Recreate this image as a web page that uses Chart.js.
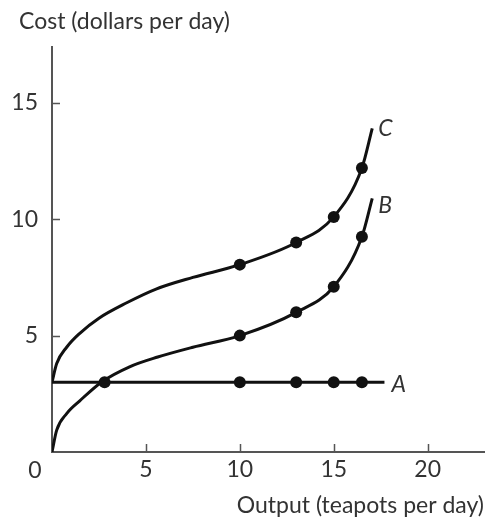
<!DOCTYPE html>
<html>
<head>
<meta charset="utf-8">
<script src="https://cdn.jsdelivr.net/npm/chart.js@4"></script>
<style>
  html, body { margin: 0; padding: 0; background: #fff; }
  #grafico { display: block; }
</style>
</head>
<body>
<canvas id="grafico" width="490" height="529"></canvas>
<script>
// datos
const xTicks = [5, 10, 15, 20];
const yTicks = [5, 10, 15];

// curva A (costo fijo)
const curvaAX = [0, 17.7];
const curvaAY = [3, 3];
// curva B
const curvaBX = [0, 0.25, 0.78, 1.48, 2.63, 4.13, 5.63, 7.5, 10, 13, 15, 16.5, 17.05];
const curvaBY = [0, 0.94, 1.65, 2.2, 3.0, 3.66, 4.08, 4.5, 5.0, 6.0, 7.1, 9.25, 10.9];
// curva C
const curvaCX = [0, 0.25, 0.78, 1.48, 2.5, 3.95, 5.54, 7.5, 10, 13, 15, 16.5, 17.05];
const curvaCY = [3, 3.8, 4.5, 5.1, 5.75, 6.4, 7.0, 7.5, 8.05, 9.0, 10.1, 12.2, 13.9];

// puntos marcados
const puntosAX = [2.8, 10, 13, 15, 16.5];
const puntosAY = [3, 3, 3, 3, 3];
const puntosBX = [10, 13, 15, 16.5];
const puntosBY = [5.0, 6.0, 7.1, 9.25];
const puntosCX = [10, 13, 15, 16.5];
const puntosCY = [8.05, 9.0, 10.1, 12.2];

const etiquetas = ['A', 'B', 'C'];

const fuente = 'Lato, "Noto Sans", sans-serif';
const tam = 23;
const colorTexto = '#333';
const colorEje = '#555';

function pares(xs, ys) {
    return xs.map((x, i) => ({ x: x, y: ys[i] }));
}

function curva(xs, ys) {
    return {
        data: pares(xs, ys),
        showLine: true,
        borderColor: '#111',
        borderWidth: 3,
        pointRadius: 0,
        cubicInterpolationMode: 'monotone',
        fill: false
    };
}

function puntos(xs, ys) {
    return {
        data: pares(xs, ys),
        showLine: false,
        pointRadius: 6,
        pointBackgroundColor: '#111',
        pointBorderColor: '#111',
        pointBorderWidth: 0
    };
}

// textos y marcas de los ejes
const extras = {
    id: 'extras',
    afterDatasetsDraw(chart) {
        const ctx = chart.ctx;
        const xs = chart.scales.x;
        const ys = chart.scales.y;
        const x0 = xs.getPixelForValue(0);
        const y0 = ys.getPixelForValue(0);

        ctx.save();
        // marcas hacia adentro
        ctx.strokeStyle = colorEje;
        ctx.lineWidth = 1.5;
        ctx.beginPath();
        yTicks.forEach(v => {
            const py = Math.round(ys.getPixelForValue(v)) + 0.5;
            ctx.moveTo(x0, py);
            ctx.lineTo(x0 + 8, py);
        });
        xTicks.forEach(v => {
            const px = Math.round(xs.getPixelForValue(v)) + 0.5;
            ctx.moveTo(px, y0);
            ctx.lineTo(px, y0 - 8);
        });
        ctx.stroke();

        ctx.fillStyle = colorTexto;
        ctx.font = tam + 'px ' + fuente;
        ctx.textBaseline = 'middle';

        // cero en el origen
        ctx.textAlign = 'center';
        ctx.fillText('0', x0 - 17, y0 + 19);

        // titulo del eje y
        ctx.textAlign = 'left';
        ctx.fillText('Cost (dollars per day)', 19, 22);

        // nombres de las curvas
        ctx.font = 'italic ' + tam + 'px ' + fuente;
        const finales = [
            [curvaAX[curvaAX.length - 1], curvaAY[curvaAY.length - 1], 7, 2],
            [curvaBX[curvaBX.length - 1], curvaBY[curvaBY.length - 1], 6, 7],
            [curvaCX[curvaCX.length - 1], curvaCY[curvaCY.length - 1], 6, 0]
        ];
        etiquetas.forEach((t, i) => {
            const f = finales[i];
            ctx.fillText(t, xs.getPixelForValue(f[0]) + f[2], ys.getPixelForValue(f[1]) + f[3]);
        });
        ctx.restore();
    }
};

const ctxGrafico = document.getElementById('grafico');

let grafico = new Chart(ctxGrafico, {
    type: 'scatter',
    data: {
        datasets: [
            curva(curvaAX, curvaAY),
            curva(curvaBX, curvaBY),
            curva(curvaCX, curvaCY),
            puntos(puntosAX, puntosAY),
            puntos(puntosBX, puntosBY),
            puntos(puntosCX, puntosCY)
        ]
    },
    options: {
        responsive: false,
        animation: false,
        layout: {
            padding: { top: 47, right: 4, left: 0, bottom: 10 }
        },
        plugins: {
            legend: { display: false },
            tooltip: { enabled: false }
        },
        scales: {
            x: {
                type: 'linear',
                min: 0,
                max: 23,
                grid: { display: false, drawTicks: false },
                border: { display: true, color: colorEje, width: 2 },
                afterBuildTicks: scale => { scale.ticks = xTicks.map(v => ({ value: v })); },
                afterFit: scale => { scale.height = 67; },
                ticks: {
                    color: colorTexto,
                    padding: 4,
                    maxRotation: 0,
                    font: { family: fuente, size: tam }
                },
                title: {
                    display: true,
                    text: 'Output (teapots per day)',
                    align: 'end',
                    color: colorTexto,
                    padding: { top: 1, bottom: 0 },
                    font: { family: fuente, size: tam }
                }
            },
            y: {
                type: 'linear',
                min: 0,
                max: 17.4,
                grid: { display: false, drawTicks: false },
                border: { display: true, color: colorEje, width: 2 },
                afterBuildTicks: scale => { scale.ticks = yTicks.map(v => ({ value: v })); },
                afterFit: scale => { scale.width = 52; },
                ticks: {
                    color: colorTexto,
                    padding: 14,
                    font: { family: fuente, size: tam }
                }
            }
        }
    },
    plugins: [extras]
});
</script>
</body>
</html>
